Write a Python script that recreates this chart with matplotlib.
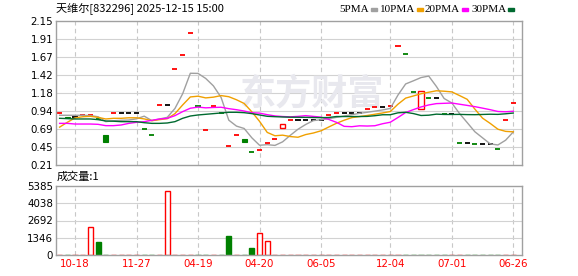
import numpy as np
import matplotlib
matplotlib.use("Agg")
import matplotlib.pyplot as plt
from matplotlib.patches import Rectangle

plt.rcParams['font.family'] = ['Noto Sans CJK SC', 'DejaVu Sans']

title = "天维尔[832296] 2025-12-15 15:00"

# daily candles (most days are flat: open == close)
opens = [0.91, 0.86, 0.85, 0.88, 0.89, 0.83, 0.61, 0.91, 0.91, 0.91,
         0.91, 0.70, 0.61, 1.02, 1.02, 1.51, 1.69, 1.99, 1.01, 0.68,
         1.01, 0.91, 0.46, 0.61, 0.56, 0.38, 0.41, 0.50, 0.56, 0.71,
         0.82, 0.82, 0.82, 0.82, 0.82, 0.89, 0.91, 0.91, 0.91, 0.91,
         0.96, 0.99, 0.99, 1.01, 1.81, 1.71, 1.20, 0.97, 1.11, 1.11,
         0.90, 0.90, 0.50, 0.50, 0.49, 0.49, 0.49, 0.43, 0.82, 1.05]
closes = [0.91, 0.84, 0.85, 0.88, 0.89, 0.83, 0.52, 0.91, 0.91, 0.91,
          0.91, 0.70, 0.61, 1.02, 1.02, 1.51, 1.69, 1.99, 1.01, 0.68,
          1.01, 0.91, 0.46, 0.61, 0.52, 0.38, 0.41, 0.50, 0.56, 0.76,
          0.82, 0.82, 0.82, 0.82, 0.82, 0.89, 0.91, 0.91, 0.91, 0.91,
          0.96, 0.99, 0.99, 1.01, 1.81, 1.71, 1.20, 1.21, 1.11, 1.11,
          0.90, 0.90, 0.50, 0.50, 0.49, 0.49, 0.49, 0.43, 0.82, 1.05]
# r = up, g = down, k = unchanged
candle_col = ("rgkrrggrkkkggrkrrrgrrgrrggrrrr"
              "rkkkkrrkkkrrkrrggrgkgkgkgkkgrr")

volumes = [3, 3, 3, 3, 2160, 1040, 3, 3, 3, 3,
           3, 3, 3, 3, 4990, 3, 3, 3, 3, 3,
           3, 3, 1480, 3, 3, 550, 1720, 1090, 3, 3,
           3, 3, 3, 3, 3, 3, 3, 3, 3, 3,
           3, 3, 3, 3, 3, 3, 3, 3, 3, 3,
           3, 3, 3, 3, 3, 3, 3, 3, 3, 1]
vol_col = ("rgrrrggrrrrggrrrrrggrggrggrrrr"
           "rrrrrrrrrrrrrrrggggggrrgggggrr")

ma5 = [0.88, 0.88, 0.88, 0.88, 0.876, 0.860, 0.794, 0.806, 0.812, 0.816,
       0.832, 0.868, 0.808, 0.830, 0.852, 0.972, 1.170, 1.446, 1.444, 1.376,
       1.276, 1.120, 0.814, 0.734, 0.702, 0.576, 0.476, 0.484, 0.474, 0.522,
       0.610, 0.692, 0.756, 0.808, 0.820, 0.834, 0.852, 0.870, 0.888, 0.906,
       0.920, 0.936, 0.952, 0.972, 1.152, 1.302, 1.344, 1.388, 1.408, 1.268,
       1.106, 1.046, 0.904, 0.782, 0.658, 0.576, 0.494, 0.480, 0.544, 0.656]
ma10 = [0.72, 0.785, 0.845, 0.86, 0.866, 0.852, 0.83, 0.839, 0.839, 0.846,
        0.846, 0.831, 0.807, 0.821, 0.834, 0.902, 1.019, 1.127, 1.137, 1.114,
        1.124, 1.145, 1.130, 1.089, 1.039, 0.926, 0.798, 0.649, 0.604, 0.612,
        0.593, 0.584, 0.620, 0.641, 0.671, 0.722, 0.772, 0.813, 0.848, 0.863,
        0.877, 0.894, 0.911, 0.930, 1.029, 1.111, 1.140, 1.170, 1.190, 1.210,
        1.204, 1.195, 1.146, 1.095, 0.963, 0.841, 0.770, 0.692, 0.663, 0.657]
ma20 = [0.771, 0.771, 0.762, 0.762, 0.762, 0.758, 0.740, 0.740, 0.749, 0.771,
        0.785, 0.794, 0.812, 0.830, 0.839, 0.875, 0.929, 0.975, 0.990, 0.980,
        0.985, 0.988, 0.969, 0.955, 0.937, 0.914, 0.909, 0.888, 0.871, 0.863,
        0.859, 0.865, 0.875, 0.865, 0.855, 0.824, 0.785, 0.731, 0.726, 0.738,
        0.735, 0.739, 0.766, 0.786, 0.850, 0.917, 0.956, 0.992, 1.019, 1.037,
        1.041, 1.045, 1.029, 1.013, 0.996, 0.976, 0.955, 0.931, 0.927, 0.934]
ma30 = [0.839, 0.835, 0.83, 0.83, 0.83, 0.821, 0.803, 0.80, 0.794, 0.794,
        0.794, 0.78, 0.771, 0.771, 0.776, 0.794, 0.839, 0.870, 0.884, 0.893,
        0.902, 0.911, 0.92, 0.92, 0.915, 0.902, 0.884, 0.866, 0.861, 0.857,
        0.854, 0.853, 0.852, 0.850, 0.848, 0.850, 0.863, 0.863, 0.863, 0.863,
        0.865, 0.874, 0.887, 0.887, 0.913, 0.920, 0.903, 0.877, 0.881, 0.895,
        0.891, 0.891, 0.892, 0.889, 0.888, 0.891, 0.894, 0.892, 0.900, 0.910]

date_idx = [2, 10, 18, 26, 34, 43, 51, 59]
date_labels = ["10-18", "11-27", "04-19", "04-20", "06-05", "12-04", "07-01", "06-26"]

price_labels = ["0.21", "0.45", "0.69", "0.94", "1.18", "1.42", "1.67", "1.91", "2.15"]
vol_labels = ["0", "1346", "2692", "4038", "5385"]

ma_names = ["5PMA", "10PMA", "20PMA", "30PMA"]
ma_colors = ["#a0a0a0", "#f0a000", "#ff00ff", "#006a30"]

RED = "#ff0000"
GREEN = "#008000"
cmap = {"r": RED, "g": GREEN, "k": "#000000"}

W, H = 578, 276
fig = plt.figure(figsize=(W / 100, H / 100), dpi=100)


def rect(l, t, r, b):
    return [l / W, 1 - b / H, (r - l) / W, (b - t) / H]


ax = fig.add_axes(rect(56, 21, 522, 165))
axv = fig.add_axes(rect(56, 186, 522, 255))

x = np.arange(len(closes))
for a in (ax, axv):
    a.set_xlim(-0.47, 60.13)
    for s in a.spines.values():
        s.set_color("#a0a0a0")
        s.set_linewidth(1.0)
    a.tick_params(length=0, pad=2, labelsize=7.4, labelcolor="#000000")
    a.set_xticks([])
    for d in date_idx:
        a.axvline(d, color="#c8c8c8", lw=0.8, ls=(0, (4, 3)), zorder=0.5)

# price panel
ax.set_ylim(0.21, 2.15)
pticks = np.linspace(0.21, 2.15, len(price_labels))
ax.set_yticks(pticks)
ax.set_yticklabels(price_labels, family="DejaVu Sans")
for t in pticks[1:-1]:
    ax.axhline(t, color="#d2d2d2", lw=0.8, zorder=0.5)

ax.text(0.395, 0.49, "东方财富", transform=ax.transAxes, fontsize=26,
        fontweight="bold", color="#e8e8ee", va="center", ha="left", zorder=0.6)

w = 0.66
for i in x:
    o, c = opens[i], closes[i]
    col = cmap[candle_col[i]]
    if abs(c - o) < 1e-9:
        ax.hlines(c, i - w / 2, i + w / 2, colors=col, lw=1.3, zorder=2)
    elif c > o:
        ax.bar(i, c - o, bottom=o, width=w, facecolor="white",
               edgecolor=col, lw=1.0, zorder=2)
    else:
        ax.bar(i, o - c, bottom=c, width=w, facecolor=col,
               edgecolor=col, lw=0.8, zorder=2)

for vals, col in zip([ma5, ma10, ma20, ma30], ma_colors):
    ax.plot(x, vals, color=col, lw=1.0, zorder=3)

# volume panel
axv.set_ylim(0, 5385)
vticks = np.linspace(0, 5385, len(vol_labels))
axv.set_yticks(vticks)
axv.set_yticklabels(vol_labels, family="DejaVu Sans")
for t in vticks[1:-1]:
    axv.axhline(t, color="#d2d2d2", lw=0.8, zorder=0.5)
for i in x:
    if vol_col[i] == "r":
        axv.bar(i, volumes[i], width=w, facecolor="white", edgecolor=RED,
                lw=1.0, zorder=2)
    else:
        axv.bar(i, volumes[i], width=w, facecolor=GREEN, edgecolor=GREEN,
                lw=1.0, zorder=2)

axv.set_xticks(date_idx)
axv.set_xticklabels(date_labels, color=RED, family="DejaVu Sans", fontsize=7.4)
axv.tick_params(axis="x", pad=3)

# header texts
fig.text(56 / W, 1 - 9 / H, title, fontsize=8, va="center", ha="left")
fig.text(57 / W, 1 - 177 / H, "成交量:1", fontsize=8, va="center", ha="left")

leg_x = [339, 380, 425, 471]
for name, col, lx in zip(ma_names, ma_colors, leg_x):
    t = fig.text(lx / W, 1 - 9 / H, name, fontsize=8, va="center",
                 ha="left", family="Liberation Serif")
    fig.canvas.draw()
    bb = t.get_window_extent()
    fig.patches.append(Rectangle(((bb.x1 + 2) / W, 1 - 11 / H), 6 / W, 3 / H,
                                 transform=fig.transFigure, color=col))

fig.savefig("out.png", dpi=100)
